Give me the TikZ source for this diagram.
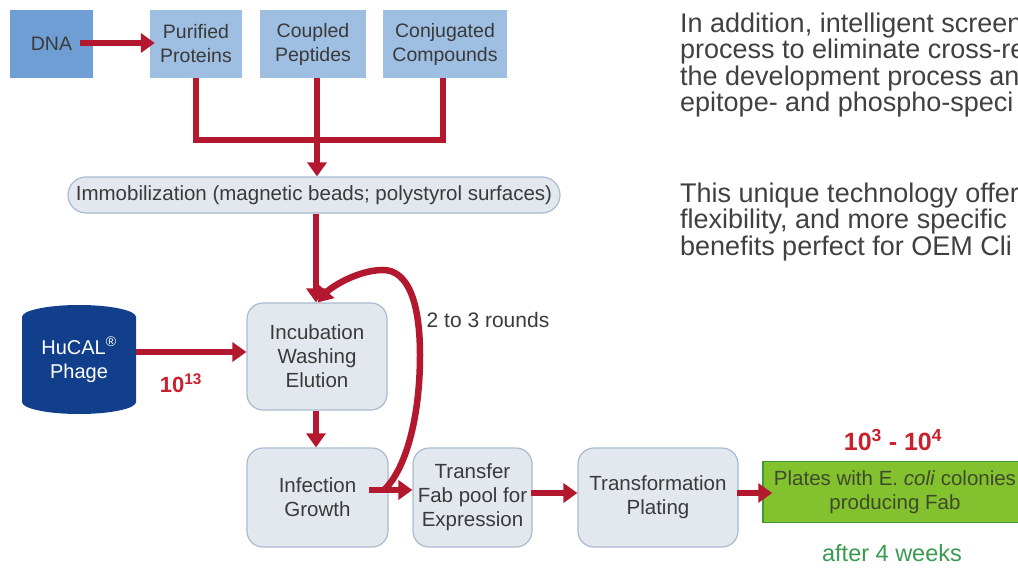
\documentclass[tikz,border=0pt]{standalone}
\usepackage{fontspec}
\setmainfont{Liberation Sans}
\usetikzlibrary{arrows.meta,calc}
\definecolor{arrowred}{HTML}{B3182F}
\definecolor{numred}{HTML}{C9202E}
\definecolor{dnablue}{HTML}{6E9ED3}
\definecolor{topblue}{HTML}{9EBEE2}
\definecolor{procfill}{HTML}{E3E8EF}
\definecolor{procdraw}{HTML}{A8BBD0}
\definecolor{navy}{HTML}{123F8C}
\definecolor{platefill}{HTML}{84C12E}
\definecolor{platedraw}{HTML}{3F9A35}
\definecolor{platetext}{HTML}{3D4B2C}
\definecolor{weekgreen}{HTML}{3A9A50}
\definecolor{boxtext}{HTML}{3A3A3A}
\definecolor{bodytext}{HTML}{404040}
\begin{document}
\begin{tikzpicture}[x=1pt,y=-1pt,
  boxfont/.style={font=\fontsize{20.5}{24}\selectfont},
  topbox/.style={font=\fontsize{19.5}{24}\selectfont, fill=topblue, inner sep=0pt, minimum width=#1, minimum height=68pt, align=center, text=boxtext},
  procbox/.style={boxfont, rounded corners=16pt, draw=procdraw, line width=1.2pt, fill=procfill, inner sep=0pt, minimum width=#1, minimum height=99pt, align=center, text=boxtext},
  redline/.style={draw=arrowred, line width=6.5pt},
  flow/.style={redline, -{Triangle[length=14pt,width=19pt]}},
  bodyline/.style={anchor=base west, inner sep=0pt, text=bodytext, font=\fontsize{27}{27}\selectfont},
]
\useasboundingbox (0,0) rectangle (1018,570);
\clip (0,0) rectangle (1018,570);

% top row
\node[topbox=83pt, fill=dnablue] (dna) at (51.5,44) {DNA};
\node[topbox=92pt] (prot) at (196,44) {Purified\\Proteins};
\node[topbox=106pt] (pep) at (313,44) {Coupled\\Peptides};
\node[topbox=124pt] (comp) at (445,44) {Conjugated\\Compounds};

% immobilization
\node[boxfont, draw=procdraw, line width=1.2pt, fill=procfill, rounded corners=18pt, minimum width=492pt, minimum height=36pt, inner sep=0pt, text=boxtext] (imm) at (314,195) {Immobilization (magnetic beads; polystyrol surfaces)};

% process boxes
\node[procbox=140pt, minimum height=107pt] (inc) at (317,356.5) {Incubation\\Washing\\Elution};
\node[procbox=141pt] (inf) at (317.5,497.5) {Infection\\Growth};
\node[procbox=119pt] (tra) at (472.5,497.5) {Transfer\\Fab pool for\\Expression};
\node[procbox=160pt] (tfm) at (658,497.5) {Transformation\\Plating};
\node[fill=platefill, draw=platedraw, line width=1.5pt, minimum width=264pt, minimum height=61pt, inner sep=0pt, align=center, text=platetext, font=\fontsize{20.5}{24}\selectfont] (plate) at (895,492) {Plates with E. \textit{coli} colonies\\producing Fab};

% phage cylinder
\fill[navy] (22,317) -- (22,402) arc[start angle=180, end angle=360, x radius=57pt, y radius=12pt] -- (136,317) arc[start angle=0, end angle=180, x radius=57pt, y radius=12pt] -- cycle;
\node[text=white, align=center, font=\fontsize{20}{24}\selectfont, minimum width=114pt, minimum height=109pt, inner sep=0pt] (phage) at (79,359.5) {HuCAL\textsuperscript{®}\\Phage};

% labels
\node[font=\fontsize{22}{24}\selectfont\bfseries, text=numred] (n13) at (181,383) {10\textsuperscript{13}};
\node[font=\fontsize{21}{24}\selectfont, text=boxtext] (rounds) at (488,320) {2 to 3 rounds};
\node[font=\fontsize{25}{28}\selectfont\bfseries, text=numred] (n34) at (893,440) {10\textsuperscript{3} - 10\textsuperscript{4}};
\node[font=\fontsize{23.5}{26}\selectfont, text=weekgreen] (weeks) at (892,553) {after 4 weeks};

% connectors top
\coordinate (j) at (317,140);
\draw[flow] ($(dna.east)+(-13,-1)$) -- ($(prot.west)+(5,-1)$);
\draw[redline] (prot.south) |- (j) -| (comp.south -| 443,0);
\draw[redline] (pep.south -| j) -- (j);
\draw[flow] (j) -- (j |- imm.north);
\draw[flow] (imm.south -| 316,0) -- (inc.north -| 316,0);
\draw[flow] (phage.east |- 0,352) -- (inc.west |- 0,352);
\draw[flow] (inc.south -| 316,0) -- (inf.north -| 316,0);

% bottom row
\coordinate (loopstart) at (384,490);
\draw[flow] ($(inf.east)+(-20,-7.5)$) -- ($(tra.west)+(0,-7.5)$);
\draw[redline, -{Triangle[length=14pt,width=19pt]}] (loopstart) .. controls (405,470) and (420,420) .. (420,355) .. controls (420,300) and (407,270) .. (383,270) .. controls (357,270) and (330,288) .. (inc.north -| 318,0);
\draw[flow] ($(tra.east)+(-2,-4.5)$) -- ($(tfm.west)+(0,-4.5)$);
\draw[flow] ($(tfm.east)+(-2,-4.5)$) -- ($(plate.west)+(10,1)$);

% right text
\node[bodyline] (t1) at (680,32) {In addition, intelligent screen};
\node[bodyline] (t2) at (680,58.5) {process to eliminate cross-re};
\node[bodyline] (t3) at (680,85) {the development process an};
\node[bodyline] (t4) at (680,111.5) {epitope- and phospho-speci};
\node[bodyline] (t5) at (680,202) {This unique technology offer};
\node[bodyline] (t6) at (680,228.5) {flexibility, and more specific};
\node[bodyline] (t7) at (680,255) {benefits perfect for OEM Cli};
\end{tikzpicture}
\end{document}
